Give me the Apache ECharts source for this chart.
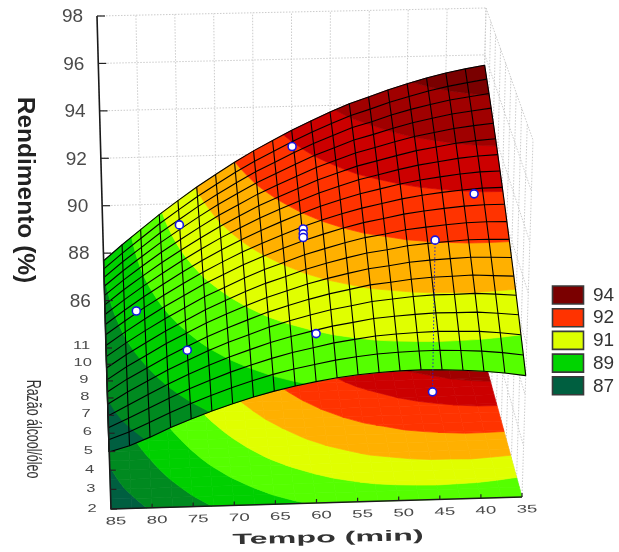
<!DOCTYPE html>
<html><head><meta charset="utf-8">
<style>html,body{margin:0;padding:0;background:#fff}#c{width:619px;height:552px}</style>
<script src="https://cdn.jsdelivr.net/npm/echarts@6/dist/echarts.min.js"></script>
</head><body><div id="c"></div>
<script>
// ---------- data ----------
const tempoTicks = [85,80,75,70,65,60,55,50,45,40,35];
const razaoTicks = [2,3,4,5,6,7,8,9,10,11];
const rendimentoTicks = [86,88,90,92,94,96,98];
const legendLabels = ['94','92','91','89','87'];
const legendColors = ['#7a0000','#ff3300','#ddff00','#00d400','#005f40'];
const bandLevels = [86.65,87.65,88.65,89.65,90.65,91.7,92.8,93.8,94.9];
const bandColors = ['#005f40','#008a20','#00d000','#55ff00','#e0ff00','#ffb000','#ff3300','#cc0000','#a00000','#7a0000'];
const meshTempo = [85,82.5,80,77.5,75,72.5,70,67.5,65,62.5,60,57.5,55,52.5,50,47.5,45,42.5,40,37.5,35];
const meshRazao = [2,2.5,3,3.5,4,4.5,5,5.5,6,6.5,7,7.5,8,8.5,9,9.5,10,10.5,11];
const rendimentoGrid = [
[86.20,86.42,86.73,87.08,87.39,87.68,87.94,88.18,88.39,88.57,88.72,88.85,88.95,89.02,89.06,89.08,89.07,89.03,88.97,88.88,88.76],
[86.30,86.58,86.93,87.29,87.62,87.92,88.20,88.45,88.68,88.87,89.03,89.18,89.29,89.38,89.43,89.46,89.47,89.44,89.40,89.32,89.21],
[86.40,86.75,87.12,87.49,87.84,88.15,88.45,88.71,88.95,89.16,89.33,89.50,89.62,89.73,89.79,89.83,89.86,89.84,89.82,89.75,89.65],
[86.50,86.90,87.30,87.69,88.05,88.38,88.69,88.96,89.22,89.44,89.63,89.81,89.94,90.07,90.14,90.20,90.24,90.23,90.23,90.17,90.09],
[86.60,87.06,87.47,87.88,88.25,88.60,88.92,89.20,89.48,89.71,89.92,90.11,90.25,90.40,90.48,90.56,90.61,90.61,90.63,90.58,90.52],
[86.72,87.21,87.63,88.06,88.44,88.81,89.14,89.44,89.73,89.97,90.20,90.40,90.56,90.72,90.81,90.91,90.97,90.99,91.02,90.98,90.94],
[86.85,87.35,87.79,88.23,88.62,89.01,89.35,89.67,89.97,90.22,90.47,90.68,90.86,91.03,91.13,91.25,91.32,91.36,91.40,91.38,91.35],
[86.97,87.48,87.94,88.39,88.79,89.20,89.55,89.89,90.20,90.46,90.73,90.95,91.15,91.33,91.44,91.58,91.66,91.72,91.77,91.77,91.75],
[87.08,87.60,88.08,88.54,88.96,89.38,89.74,90.10,90.42,90.70,90.98,91.21,91.43,91.62,91.75,91.90,91.99,92.07,92.13,92.15,92.14],
[87.18,87.71,88.21,88.68,89.12,89.55,89.93,90.30,90.63,90.93,91.22,91.47,91.70,91.90,92.05,92.21,92.32,92.41,92.48,92.52,92.52],
[87.27,87.81,88.33,88.81,89.27,89.71,90.11,90.49,90.83,91.15,91.45,91.72,91.96,92.17,92.34,92.51,92.64,92.74,92.82,92.88,92.89],
[87.35,87.91,88.44,88.93,89.41,89.86,90.28,90.67,91.03,91.36,91.67,91.96,92.21,92.44,92.62,92.80,92.95,93.06,93.16,93.23,93.25],
[87.42,88.00,88.54,89.05,89.54,90.00,90.44,90.84,91.22,91.56,91.88,92.19,92.45,92.70,92.89,93.08,93.25,93.37,93.49,93.57,93.61],
[87.48,88.08,88.63,89.16,89.66,90.13,90.59,91.00,91.40,91.75,92.08,92.41,92.68,92.95,93.15,93.35,93.54,93.67,93.81,93.90,93.96],
[87.54,88.15,88.71,89.26,89.77,90.26,90.73,91.15,91.57,91.93,92.28,92.62,92.90,93.19,93.40,93.62,93.82,93.97,94.12,94.22,94.30],
[87.59,88.21,88.78,89.35,89.87,90.38,90.86,91.30,91.73,92.10,92.47,92.82,93.12,93.42,93.64,93.88,94.09,94.26,94.42,94.53,94.63],
[87.63,88.26,88.84,89.43,89.96,90.49,90.98,91.44,91.88,92.26,92.65,93.01,93.33,93.64,93.87,94.13,94.35,94.54,94.71,94.83,94.95],
[87.66,88.30,88.90,89.50,90.05,90.59,91.09,91.57,92.02,92.42,92.82,93.19,93.53,93.85,94.10,94.37,94.60,94.81,94.99,95.13,95.26],
[87.68,88.33,88.95,89.56,90.13,90.68,91.19,91.69,92.15,92.57,92.98,93.36,93.72,94.05,94.32,94.60,94.84,95.07,95.26,95.42,95.56]
];
const pontoTempo      = [81,  75,  75,  60.2,60,  60,  60,  59.5,44,  38.5,44];
const pontoRazao      = [7.3, 9.9, 4.35,10.2,6.5, 6.5, 6.5, 3.4, 5.7, 7.0, 5.7];
const pontoRendimento = [88.0,89.8,88.4,92.78,91.7,91.5,91.35,89.6,91.65,92.65,85.5];

// ---------- 3D view of the box (corners of the box on the page) ----------
const FLOOR = 84, TOP = 98;
const view = {
  A:[111,509], B:[522,497], C:[106,348], D:[478,336],
  E:[97,16],   F:[486,8],   G:[98,146],  H:[533,140]
};
const lerp = (a,b,k)=>a+(b-a)*k;
function project(t,r,z){
  const s=(85-t)/50, w=(r-2)/9, wp=w/(w+0.9*(1-w)), f=(z-FLOOR)/(TOP-FLOOR);
  return [0,1].map(i=>{
    const fl=lerp(lerp(view.A[i],view.B[i],s),lerp(view.C[i],view.D[i],s),wp);
    const tp=lerp(lerp(view.G[i],view.H[i],s),lerp(view.E[i],view.F[i],s),wp);
    return lerp(fl,tp,f);
  });
}
// clip a polygon whose vertices carry z to the band lo<=z<hi
function clipBand(poly,lo,hi){
  const clip=(pts,lim,keepAbove)=>{
    const out=[];
    const inside=p=>keepAbove?p.z>=lim:p.z<=lim;
    for(let i=0;i<pts.length;i++){
      const a=pts[i],b=pts[(i+1)%pts.length];
      const ia=inside(a),ib=inside(b);
      if(ia) out.push(a);
      if(ia!==ib){
        const k=(lim-a.z)/(b.z-a.z);
        out.push({t:lerp(a.t,b.t,k),r:lerp(a.r,b.r,k),z:lim});
      }
    }
    return out;
  };
  let p=poly;
  if(lo>-Infinity) p=clip(p,lo,true);
  if(p.length&&hi<Infinity) p=clip(p,hi,false);
  return p;
}
const cells=[];
for(let j=0;j<meshRazao.length-1;j++)for(let i=0;i<meshTempo.length-1;i++)cells.push([i,j]);
function cellPoly(i,j){
  const v=(a,b)=>({t:meshTempo[a],r:meshRazao[b],z:rendimentoGrid[b][a]});
  return [v(i,j),v(i+1,j),v(i+1,j+1),v(i,j+1)];
}
function cellRender(onFloor){
  return function(params,api){
    const [i,j]=cells[params.dataIndex];
    const poly=cellPoly(i,j),children=[];
    for(let b=0;b<bandColors.length;b++){
      const lo=b===0?-Infinity:bandLevels[b-1], hi=b===bandLevels.length?Infinity:bandLevels[b];
      const p=clipBand(poly,lo,hi);
      if(p.length<3) continue;
      children.push({type:'polygon',silent:true,
        shape:{points:p.map(q=>api.coord(project(q.t,q.r,onFloor?FLOOR:q.z)))},
        style:{fill:bandColors[b],stroke:bandColors[b],lineWidth:0.7}});
    }
    return {type:'group',children};
  };
}
// surface height at any tempo/razão, read from the cell containing it
function surfaceAt(t,r){
  let i=0,j=0;
  while(i<meshTempo.length-2&&t<meshTempo[i+1])i++;
  while(j<meshRazao.length-2&&r>meshRazao[j+1])j++;
  const a=(meshTempo[i]-t)/(meshTempo[i]-meshTempo[i+1]),b=(r-meshRazao[j])/(meshRazao[j+1]-meshRazao[j]);
  return lerp(lerp(rendimentoGrid[j][i],rendimentoGrid[j][i+1],a),lerp(rendimentoGrid[j+1][i],rendimentoGrid[j+1][i+1],a),b);
}
const line=(api,pts,style)=>({type:'polyline',silent:true,shape:{points:pts.map(p=>api.coord(p))},style:Object.assign({fill:null},style)});
const wallStyle={stroke:'#cccccc',lineWidth:1,lineDash:[1.5,1.5]};
const wallLines=[];
rendimentoTicks.concat([84]).forEach(z=>{
  wallLines.push([[85,11,z],[35,11,z]]);
  wallLines.push([[35,11,z],[35,2,z]]);
});
tempoTicks.forEach(t=>wallLines.push([[t,11,FLOOR],[t,11,TOP]]));
razaoTicks.forEach(r=>wallLines.push([[35,r,FLOOR],[35,r,TOP]]));

const meshLines=[];
meshRazao.forEach((r,j)=>meshLines.push(meshTempo.map((t,i)=>[t,r,rendimentoGrid[j][i]])));
meshTempo.forEach((t,i)=>meshLines.push(meshRazao.map((r,j)=>[t,r,rendimentoGrid[j][i]])));

const textFill='#4a4a4a';
const chart=echarts.init(document.getElementById('c'),null,{renderer:'canvas'});
const dummy=n=>Array.from({length:n},(_,i)=>[i,i]);
chart.setOption({
  animation:false,
  backgroundColor:'#fff',
  grid:{left:0,right:0,top:0,bottom:0},
  xAxis:{type:'value',min:0,max:619,show:false},
  yAxis:{type:'value',min:0,max:552,inverse:true,show:false},
  series:[
    {type:'custom',coordinateSystem:'cartesian2d',clip:false,silent:true,data:dummy(wallLines.length),z:1,
     renderItem:(p,api)=>line(api,wallLines[p.dataIndex].map(q=>project(q[0],q[1],q[2])),wallStyle)},
    {type:'custom',coordinateSystem:'cartesian2d',clip:false,silent:true,data:dummy(cells.length),z:2,renderItem:cellRender(true)},
    {type:'custom',coordinateSystem:'cartesian2d',clip:false,silent:true,data:dummy(cells.length),z:3,renderItem:cellRender(false)},
    {type:'custom',coordinateSystem:'cartesian2d',clip:false,silent:true,data:dummy(meshLines.length),z:4,
     renderItem:(p,api)=>line(api,meshLines[p.dataIndex].map(q=>project(q[0],q[1],q[2])),{stroke:'#000',lineWidth:1.1})},
    // axis lines
    {type:'custom',coordinateSystem:'cartesian2d',clip:false,silent:true,data:dummy(1),z:5,
     renderItem:(p,api)=>({type:'group',children:[
       line(api,[project(85,11,TOP),project(85,11,FLOOR),project(85,2,FLOOR),project(35,2,FLOOR)],{stroke:'#1a1a1a',lineWidth:1.6})
     ]})},
    // rendimento ticks
    {type:'custom',coordinateSystem:'cartesian2d',clip:false,silent:true,data:dummy(rendimentoTicks.length),z:5,
     renderItem:(p,api)=>{
       const v=rendimentoTicks[p.dataIndex],q=project(85,11,v),c=api.coord([q[0]-24.5,q[1]+1]);
       return {type:'group',children:[
         line(api,[q,[q[0]+8,q[1]]],{stroke:'#222',lineWidth:1.2}),
         {type:'text',x:c[0],y:c[1],style:{text:String(v),font:'19px "Liberation Sans",Arial,sans-serif',fill:textFill,align:'center',verticalAlign:'middle'}}
       ]};
     }},
    // razão ticks
    {type:'custom',coordinateSystem:'cartesian2d',clip:false,silent:true,data:dummy(razaoTicks.length),z:5,
     renderItem:(p,api)=>{
       const v=razaoTicks[p.dataIndex],q=project(85,v,FLOOR),c=api.coord([q[0]-19-(v-2)*0.6,q[1]-(v-2)*0.2]);
       return {type:'group',children:[
         line(api,[q,[q[0]+6,q[1]]],{stroke:'#222',lineWidth:1.2}),
         {type:'text',x:c[0],y:c[1],scaleX:1.5,style:{text:String(v),font:'11px "Liberation Sans",Arial,sans-serif',fill:textFill,align:'center',verticalAlign:'middle'}}
       ]};
     }},
    // tempo ticks
    {type:'custom',coordinateSystem:'cartesian2d',clip:false,silent:true,data:dummy(tempoTicks.length),z:5,
     renderItem:(p,api)=>{
       const v=tempoTicks[p.dataIndex],q=project(v,2,FLOOR),c=api.coord([q[0]+5,q[1]+12.5]);
       return {type:'group',children:[
         line(api,[q,[q[0],q[1]-4]],{stroke:'#222',lineWidth:1.2}),
         {type:'text',x:c[0],y:c[1],rotation:0.03,scaleX:1.7,style:{text:String(v),font:'11px "Liberation Sans",Arial,sans-serif',fill:textFill,align:'center',verticalAlign:'middle'}}
       ]};
     }},
    // drop lines
    {type:'custom',coordinateSystem:'cartesian2d',clip:false,silent:true,data:dummy(pontoTempo.length),z:6,
     renderItem:(p,api)=>{
       const i=p.dataIndex,t=pontoTempo[i],r=pontoRazao[i];
       return line(api,[project(t,r,pontoRendimento[i]),project(t,r,surfaceAt(t,r))],{stroke:'#2020d0',lineWidth:1,lineDash:[1.5,2]});
     }},
    // observed points
    {type:'custom',coordinateSystem:'cartesian2d',clip:false,silent:true,data:dummy(pontoTempo.length),z:7,
     renderItem:(p,api)=>{
       const i=p.dataIndex,c=api.coord(project(pontoTempo[i],pontoRazao[i],pontoRendimento[i]));
       return {type:'circle',silent:true,shape:{cx:c[0],cy:c[1],r:4},style:{fill:'#fff',stroke:'#1515e0',lineWidth:1.6}};
     }}
  ],
  graphic:[
    {type:'text',x:25,y:190,rotation:-Math.PI/2,
     style:{text:'Rendimento (%)',font:'bold 24.5px "Liberation Sans",Arial,sans-serif',fill:'#222',align:'center',verticalAlign:'middle'}},
    {type:'text',x:33,y:429,rotation:-Math.PI/2,scaleX:0.62,
     style:{text:'Razão álcool/óleo',font:'20px "Liberation Sans",Arial,sans-serif',fill:'#333',align:'center',verticalAlign:'middle'}},
    {type:'text',x:328,y:538,rotation:0.022,scaleX:2.15,
     style:{text:'Tempo (min)',font:'bold 15px "Liberation Sans",Arial,sans-serif',fill:'#333',align:'center',verticalAlign:'middle'}}
  ].concat(legendLabels.flatMap((lab,i)=>{
    const y=286+i*22.7;
    return [
      {type:'rect',shape:{x:552.5,y:y,width:31,height:18},style:{fill:legendColors[i],stroke:'#3a3a3a',lineWidth:1.6}},
      {type:'text',x:593,y:y+9.5,style:{text:lab,font:'19px "Liberation Sans",Arial,sans-serif',fill:'#333',align:'left',verticalAlign:'middle'}}
    ];
  }))
});
</script></body></html>
